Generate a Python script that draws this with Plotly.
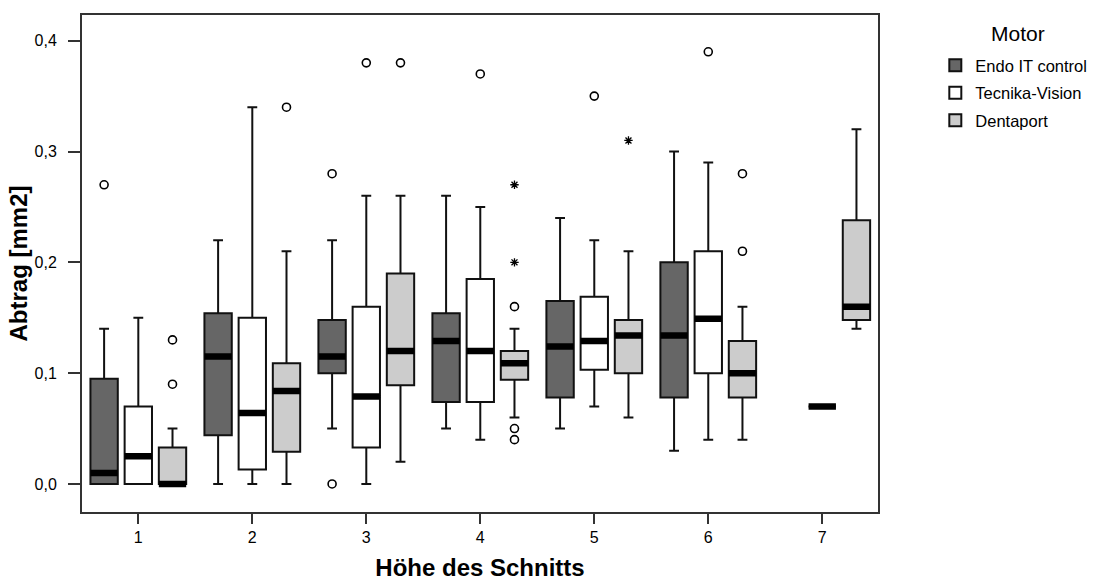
import plotly.graph_objects as go

categories = ["1", "2", "3", "4", "5", "6", "7"]
motors = ["Endo IT control", "Tecnika-Vision", "Dentaport"]
fills = ["#666666", "#ffffff", "#cccccc"]

# Endo IT control (no data at height 7)
endo_x = ["1", "2", "3", "4", "5", "6"]
endo_lower = [0.0, 0.0, 0.05, 0.05, 0.05, 0.03]
endo_q1 = [0.0, 0.044, 0.10, 0.074, 0.078, 0.078]
endo_median = [0.01, 0.115, 0.115, 0.129, 0.124, 0.134]
endo_q3 = [0.095, 0.154, 0.148, 0.154, 0.165, 0.20]
endo_upper = [0.14, 0.22, 0.22, 0.26, 0.24, 0.30]
endo_out_x = ["1", "3", "3"]
endo_out_y = [0.27, 0.28, 0.0]
endo_ext_x = []
endo_ext_y = []

# Tecnika-Vision
tec_x = ["1", "2", "3", "4", "5", "6", "7"]
tec_lower = [0.0, 0.0, 0.0, 0.04, 0.07, 0.04, 0.07]
tec_q1 = [0.0, 0.013, 0.033, 0.074, 0.103, 0.10, 0.07]
tec_median = [0.025, 0.064, 0.079, 0.12, 0.129, 0.149, 0.07]
tec_q3 = [0.07, 0.15, 0.16, 0.185, 0.169, 0.21, 0.07]
tec_upper = [0.15, 0.34, 0.26, 0.25, 0.22, 0.29, 0.07]
tec_out_x = ["3", "4", "5", "6"]
tec_out_y = [0.38, 0.37, 0.35, 0.39]
tec_ext_x = []
tec_ext_y = []

# Dentaport
den_x = ["1", "2", "3", "4", "5", "6", "7"]
den_lower = [0.0, 0.0, 0.02, 0.06, 0.06, 0.04, 0.14]
den_q1 = [0.0, 0.029, 0.089, 0.094, 0.10, 0.078, 0.148]
den_median = [0.0, 0.084, 0.12, 0.109, 0.134, 0.10, 0.16]
den_q3 = [0.033, 0.109, 0.19, 0.12, 0.148, 0.129, 0.238]
den_upper = [0.05, 0.21, 0.26, 0.14, 0.21, 0.16, 0.32]
den_out_x = ["1", "1", "2", "3", "4", "4", "4", "6", "6"]
den_out_y = [0.13, 0.09, 0.34, 0.38, 0.16, 0.05, 0.04, 0.28, 0.21]
den_ext_x = ["4", "4", "5"]
den_ext_y = [0.20, 0.27, 0.31]

series = [
    (endo_x, endo_lower, endo_q1, endo_median, endo_q3, endo_upper,
     endo_out_x, endo_out_y, endo_ext_x, endo_ext_y),
    (tec_x, tec_lower, tec_q1, tec_median, tec_q3, tec_upper,
     tec_out_x, tec_out_y, tec_ext_x, tec_ext_y),
    (den_x, den_lower, den_q1, den_median, den_q3, den_upper,
     den_out_x, den_out_y, den_ext_x, den_ext_y),
]

FONT = "Liberation Sans, Arial, sans-serif"
fig = go.Figure()

for i, (name, fill, s) in enumerate(zip(motors, fills, series)):
    x, lo, q1, med, q3, up, ox, oy, ex, ey = s
    grp = f"g{i}"
    # main box
    fig.add_trace(go.Box(
        name=name, x=x, q1=q1, median=med, q3=q3,
        lowerfence=lo, upperfence=up,
        fillcolor=fill, line=dict(color="#111111", width=2),
        whiskerwidth=0.36, offsetgroup=grp, legendgroup=grp,
        boxpoints=False, showlegend=True,
    ))
    # thick median bar
    fig.add_trace(go.Box(
        name=name, x=x, q1=med, median=med, q3=med,
        lowerfence=med, upperfence=med,
        fillcolor="#000000", line=dict(color="#000000", width=6.5),
        whiskerwidth=0, offsetgroup=grp, legendgroup=grp,
        boxpoints=False, showlegend=False, hoverinfo="skip",
    ))
    # outliers (circles)
    if ox:
        fig.add_trace(go.Box(
            name=name, x=ox, y=oy, offsetgroup=grp, legendgroup=grp,
            boxpoints="all", jitter=0, pointpos=0,
            fillcolor="rgba(0,0,0,0)", line=dict(color="rgba(0,0,0,0)", width=0),
            marker=dict(symbol="circle-open", size=8, color="#000000",
                        line=dict(width=1.6, color="#000000")),
            whiskerwidth=0, showlegend=False,
        ))
    # extremes (asterisks)
    if ex:
        fig.add_trace(go.Box(
            name=name, x=ex, y=ey, offsetgroup=grp, legendgroup=grp,
            boxpoints="all", jitter=0, pointpos=0,
            fillcolor="rgba(0,0,0,0)", line=dict(color="rgba(0,0,0,0)", width=0),
            marker=dict(symbol="asterisk-open", size=7, color="#000000",
                        line=dict(width=1.3, color="#000000")),
            whiskerwidth=0, showlegend=False,
        ))

fig.update_layout(
    width=1093, height=581,
    margin=dict(l=82, r=215, t=15, b=69, autoexpand=False),
    paper_bgcolor="white", plot_bgcolor="white",
    boxmode="group", boxgap=0.1, boxgroupgap=0.2,
    separators=",.",
    font=dict(family=FONT, size=12, color="#000000"),
    legend=dict(
        x=1.072, y=0.9336, xanchor="left", yanchor="top",
        font=dict(size=16.5), traceorder="grouped", tracegroupgap=3,
        itemclick=False,
    ),
    annotations=[dict(
        text="Motor", xref="paper", yref="paper", x=1.176, y=0.962,
        xanchor="center", yanchor="middle", showarrow=False,
        font=dict(size=21),
    )],
    xaxis=dict(
        type="category", categoryorder="array", categoryarray=categories,
        range=[-0.494, 6.489], showline=True, mirror=True, automargin=False,
        linecolor="#333333", linewidth=2, ticks="outside", ticklen=10,
        tickwidth=2, tickcolor="#333333", showgrid=False, zeroline=False,
        title=dict(text="<b>Höhe des Schnitts</b>", font=dict(size=24), standoff=17),
        tickfont=dict(size=16),
    ),
    yaxis=dict(
        range=[-0.0253, 0.4232], tickvals=[0, 0.1, 0.2, 0.3, 0.4],
        tickformat=".1f", showline=True, mirror=True, automargin=False,
        linecolor="#333333", linewidth=2, ticks="outside", ticklen=12,
        tickwidth=2, tickcolor="#333333", showgrid=False, zeroline=False,
        ticklabelstandoff=8,
        title=dict(text="<b>Abtrag [mm2]</b>", font=dict(size=24), standoff=0),
        tickfont=dict(size=16),
    ),
)

fig.write_html("out.html", config={"displayModeBar": False},
               post_script="document.body.style.margin='0';")
